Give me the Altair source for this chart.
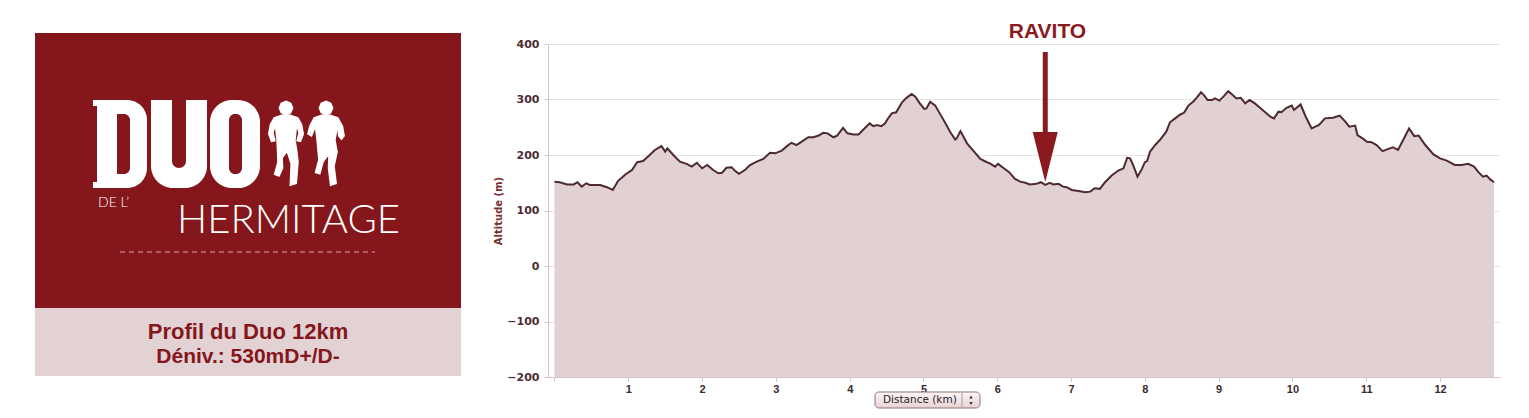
import altair as alt
import pandas as pd

# ---- elevation profile (km, m) ----
km = [0.0,0.07,0.17,0.26,0.31,0.37,0.43,0.48,0.62,0.71,
      0.79,0.86,0.96,1.05,1.12,1.20,1.29,1.36,1.45,1.50,
      1.53,1.61,1.70,1.79,1.86,1.93,2.00,2.07,2.15,2.22,
      2.27,2.33,2.40,2.45,2.50,2.58,2.65,2.74,2.83,2.92,
      2.99,3.08,3.15,3.21,3.28,3.35,3.44,3.51,3.58,3.64,
      3.70,3.78,3.83,3.91,3.97,4.05,4.12,4.18,4.27,4.32,
      4.37,4.43,4.48,4.51,4.57,4.63,4.71,4.77,4.84,4.89,
      4.95,5.01,5.04,5.09,5.16,5.22,5.29,5.36,5.43,5.45,
      5.50,5.59,5.68,5.77,5.86,5.90,5.97,6.01,6.08,6.16,
      6.24,6.31,6.38,6.44,6.53,6.59,6.65,6.71,6.76,6.83,
      6.89,6.94,7.01,7.10,7.19,7.26,7.32,7.39,7.46,7.55,
      7.64,7.71,7.76,7.80,7.84,7.90,7.96,8.00,8.03,8.07,
      8.14,8.21,8.29,8.34,8.41,8.48,8.53,8.59,8.66,8.70,
      8.76,8.80,8.85,8.91,8.95,9.01,9.07,9.13,9.19,9.24,
      9.30,9.36,9.42,9.49,9.56,9.63,9.70,9.75,9.81,9.85,
      9.92,9.99,10.02,10.11,10.18,10.26,10.31,10.36,10.44,10.55,
      10.64,10.71,10.77,10.85,10.88,10.96,11.01,11.07,11.14,11.22,
      11.30,11.36,11.43,11.50,11.58,11.65,11.71,11.80,11.91,12.00,
      12.09,12.20,12.29,12.38,12.46,12.52,12.58,12.63,12.68,12.73]
altitude = [152,151,147,147,151,143,149,146,146,142,
            137,153,165,173,187,189,200,209,216,206,
            212,200,188,184,179,186,176,182,173,167,
            168,177,178,171,166,173,182,188,193,204,
            203,208,216,222,218,224,232,232,235,240,
            239,232,235,249,239,237,237,245,257,252,
            254,252,257,264,275,277,295,303,310,305,
            293,283,284,296,289,275,259,242,228,230,
            243,221,207,193,187,185,179,184,177,169,
            157,152,150,147,148,151,146,150,147,148,
            143,142,137,135,133,134,140,139,151,163,
            172,176,195,194,182,161,175,187,189,206,
            218,228,242,259,266,273,276,289,297,303,
            313,308,299,299,302,298,306,315,308,302,
            303,293,299,293,285,277,269,266,278,277,
            285,289,281,291,269,248,251,254,266,267,
            271,261,251,253,236,229,224,223,218,207,
            211,214,209,227,248,234,235,218,201,194,
            190,182,182,184,179,169,161,163,156,151]

x_ticks = list(range(0, 13))
y_ticks = [-200, -100, 0, 100, 200, 300, 400]
ravito_km = 6.65

title_line1 = "Profil du Duo 12km"
title_line2 = "Déniv.: 530mD+/D-"

RED = "#85161b"
PINK = "#e2d1d2"

df = pd.DataFrame({"km": km, "alt": altitude})
one = pd.DataFrame({"k": [0]})

x_enc = alt.X("km:Q",
              scale=alt.Scale(domain=[-0.088, 12.812], nice=False, zero=False),
              axis=alt.Axis(values=x_ticks, title=None, grid=False, format="d",
                            labelExpr="datum.value == 0 ? '' : datum.label",
                            labelFont="Liberation Sans", labelFontWeight="bold",
                            labelFontSize=11, labelColor="#3a2a2c",
                            tickSize=4, tickColor="#d3c3c6", domainColor="#d3c3c6",
                            labelPadding=2))
y_enc = alt.Y("alt:Q",
              scale=alt.Scale(domain=[-200, 400], nice=False, zero=False),
              axis=alt.Axis(values=y_ticks, title="Altitude (m)", grid=True,
                            gridColor="#e6e3e3", gridWidth=1,
                            labelFont="DejaVu Sans", labelFontWeight="bold",
                            labelFontSize=11, labelColor="#4d2d35",
                            tickSize=4, tickColor="#d3c3c6", domainColor="#d3c3c6",
                            labelPadding=5,
                            titleFont="DejaVu Sans", titleFontSize=10,
                            titleFontWeight="bold", titleColor="#7a2e2e",
                            titlePadding=3))

area = alt.Chart(df).mark_area(color=PINK, opacity=1).encode(
    x=x_enc, y=y_enc, y2=alt.datum(-200))
line = alt.Chart(df).mark_line(color="#4d2a2f", strokeWidth=2).encode(x=x_enc, y=y_enc)


def rect(x1, x2, y1, y2, color, **kw):
    return alt.Chart(one).mark_rect(color=color, opacity=1, **kw).encode(
        x=alt.value(x1), x2=alt.value(x2), y=alt.value(y1), y2=alt.value(y2))


def text(t, x, y, **kw):
    kw.setdefault("baseline", "alphabetic")
    return alt.Chart(one).mark_text(text=t, **kw).encode(x=alt.value(x), y=alt.value(y))


# left panel
panel = rect(-513, -87, -11, 264, RED)
panel2 = rect(-513, -87, 264, 332, "#e2d2d3")

# DUO block letters
letters = [
    rect(-451, -401, 56, 144, "white", cornerRadiusTopRight=20, cornerRadiusBottomRight=20),
    rect(-455, -446, 56, 62, "white"),
    rect(-455, -446, 138, 144, "white"),
    rect(-431, -418, 70, 130, RED, cornerRadiusTopRight=6, cornerRadiusBottomRight=6),
    rect(-397, -341, 56, 144, "white", cornerRadiusBottomLeft=22, cornerRadiusBottomRight=22),
    rect(-376, -362, 50, 124, RED, cornerRadiusBottomLeft=7, cornerRadiusBottomRight=7),
    rect(-338, -288, 56, 144, "white", cornerRadius=22),
    rect(-319, -306, 70, 130, RED, cornerRadius=6),
]

head = "M 0.17 -0.82 L 0.12 -0.70 L 0 -0.65 L -0.12 -0.70 L -0.17 -0.82 L -0.12 -0.94 L 0 -0.99 L 0.12 -0.94 Z "
runner1 = head + ("M -0.1 -0.67 L 0.1 -0.67 L 0.28 -0.61 L 0.37 -0.45 L 0.41 -0.23 L 0.34 -0.04 "
                  "L 0.23 -0.06 L 0.28 -0.25 L 0.25 -0.36 L 0.22 -0.09 L 0.26 0.14 L 0.29 0.41 "
                  "L 0.25 0.91 L 0.08 0.96 L 0.1 0.45 L 0.02 0.2 L -0.07 0.32 L -0.06 0.55 "
                  "L -0.15 0.75 L -0.28 0.7 L -0.2 0.41 L -0.22 -0.09 L -0.25 -0.36 L -0.28 -0.25 "
                  "L -0.23 -0.06 L -0.34 -0.04 L -0.41 -0.23 L -0.37 -0.45 L -0.28 -0.61 Z")
runner2 = head + ("M -0.1 -0.67 L 0.1 -0.67 L 0.28 -0.61 L 0.39 -0.41 L 0.43 -0.18 L 0.35 -0.08 "
                  "L 0.27 -0.18 L 0.26 -0.32 L 0.22 -0.09 L 0.27 0.18 L 0.2 0.5 L 0.25 0.91 "
                  "L 0.09 0.96 L 0.04 0.55 L 0.05 0.28 L -0.05 0.41 L -0.13 0.7 L -0.26 0.66 "
                  "L -0.18 0.36 L -0.22 -0.09 L -0.25 -0.34 L -0.32 -0.16 L -0.43 -0.22 "
                  "L -0.38 -0.42 L -0.28 -0.61 Z")
r1 = alt.Chart(one).mark_point(shape=runner1, filled=True, fill="white", opacity=1,
                               strokeWidth=0, size=7744).encode(x=alt.value(-262), y=alt.value(100))
r2 = alt.Chart(one).mark_point(shape=runner2, filled=True, fill="white", opacity=1,
                               strokeWidth=0, size=7744).encode(x=alt.value(-222), y=alt.value(100))

del_ = text("DE L\u2019", -450, 163, align="left", font="Lato", fontWeight=300,
            fontSize=14, color="white")
herm = text("HERMITAGE", -371, 189, align="left", font="Lato", fontWeight=300,
            fontSize=40, color="white")
dash = alt.Chart(one).mark_rule(color="#d9a0a3", strokeWidth=1, strokeDash=[5, 4]).encode(
    x=alt.value(-428), x2=alt.value(-173), y=alt.value(208))

t1 = text(title_line1, -300, 295, align="center", font="Liberation Sans",
          fontWeight="bold", fontSize=22, color=RED)
t2 = text(title_line2, -300, 319, align="center", font="Liberation Sans",
          fontWeight="bold", fontSize=21, color=RED)

# RAVITO annotation
ravito = alt.Chart(one).mark_text(text="RAVITO", align="center", baseline="alphabetic",
                                  font="Liberation Sans", fontWeight="bold", fontSize=21,
                                  color="#8b1a1f").encode(
    x=alt.datum(6.68), y=alt.value(-6))
shaft = alt.Chart(one).mark_rule(color="#8b1a1f", strokeWidth=5).encode(
    x=alt.datum(ravito_km), y=alt.value(8), y2=alt.value(92))
arrow = alt.Chart(one).mark_point(shape="M -0.5 -1 L 0.5 -1 L 0 1 Z", filled=True,
                                  fill="#8b1a1f", opacity=1, strokeWidth=0, size=2500).encode(
    x=alt.datum(ravito_km), y=alt.value(113))

# Distance (km) button
grad = alt.Gradient(gradient="linear",
                    stops=[alt.GradientStop(color="#fdf6f6", offset=0),
                           alt.GradientStop(color="#e8d2d4", offset=1)],
                    x1=0, x2=0, y1=0, y2=1)
btn = alt.Chart(one).mark_rect(fill=grad, stroke="#8f7476", strokeWidth=1, cornerRadius=4).encode(
    x=alt.value(327), x2=alt.value(432), y=alt.value(348), y2=alt.value(364))
btn_t = text("Distance (km)", 335, 356, align="left", baseline="middle", font="DejaVu Sans",
             fontSize=10.5, color="#2a2222")
btn_div = alt.Chart(one).mark_rule(color="#b09a9c", strokeWidth=1).encode(
    x=alt.value(414), y=alt.value(349), y2=alt.value(363))
up = alt.Chart(one).mark_point(shape="triangle-up", filled=True, color="#333", opacity=1,
                               size=12).encode(x=alt.value(423), y=alt.value(353))
dn = alt.Chart(one).mark_point(shape="triangle-down", filled=True, color="#333", opacity=1,
                               size=12).encode(x=alt.value(423), y=alt.value(359.5))

chart = alt.layer(
    area, line,
    panel, panel2, *letters, r1, r2, del_, herm, dash, t1, t2,
    ravito, shaft, arrow, btn, btn_t, btn_div, up, dn,
).properties(
    width=952, height=333,
    padding={"left": 540, "top": 36, "right": 21, "bottom": 33},
    autosize=alt.AutoSizeParams(type="none"),
    background="white",
).configure_view(stroke=None)

chart.save("out.html", embed_options={"renderer": "svg", "actions": False})
